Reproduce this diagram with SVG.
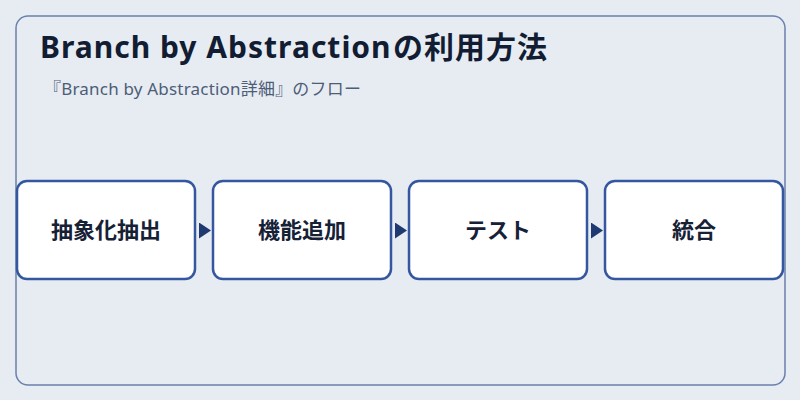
<svg xmlns="http://www.w3.org/2000/svg" width="800" height="400" viewBox="0 0 800 400">
<defs>
<style>
.frame{fill:#e7ecf2;stroke:#6a80ae;stroke-width:1.5}
.node rect{fill:#ffffff;stroke:#3457a0;stroke-width:2.5}
.node text{font-family:"Noto Sans CJK JP","Noto Sans",sans-serif;font-size:22px;font-weight:700;fill:#162136;text-anchor:middle}
.title{font-family:"Noto Sans","Noto Sans CJK JP",sans-serif;font-size:30px;font-weight:700;fill:#121d33;letter-spacing:1px}
.title .jp{font-family:"Noto Sans CJK JP",sans-serif;font-size:30px;letter-spacing:1px}
.sub{font-family:"Noto Sans","Noto Sans CJK JP",sans-serif;font-size:17px;fill:#4d5d78;letter-spacing:0.2px}
.conn line{stroke:#1e3a70;stroke-width:2}
</style>
<marker id="arr" viewBox="0 0 12 16" refX="12" refY="8" markerWidth="12" markerHeight="16" markerUnits="userSpaceOnUse" orient="auto">
<path d="M0,0 L12,8 L0,16 Z" fill="#1e3a70"/>
</marker>
</defs>
<rect width="800" height="400" fill="#e7ecf2"/>
<rect class="frame" x="16" y="16" width="769" height="369" rx="12"/>
<text class="title" x="40" y="58">Branch by Abstraction<tspan class="jp" x="393">の利用方法</tspan></text>
<text class="sub" x="44" y="95">『Branch by Abstraction詳細』のフロー</text>
<g class="conn">
<line x1="196" y1="230.5" x2="211" y2="230.5" marker-end="url(#arr)" stroke-opacity="0"/>
<line x1="392" y1="230.5" x2="407" y2="230.5" marker-end="url(#arr)" stroke-opacity="0"/>
<line x1="588" y1="230.5" x2="603" y2="230.5" marker-end="url(#arr)" stroke-opacity="0"/>
</g>
<g id="node1" class="node"><rect x="17" y="181" width="178" height="98" rx="10"/><text x="106" y="238">抽象化抽出</text></g>
<g id="node2" class="node"><rect x="213" y="181" width="178" height="98" rx="10"/><text x="302" y="238">機能追加</text></g>
<g id="node3" class="node"><rect x="409" y="181" width="178" height="98" rx="10"/><text x="498" y="238">テスト</text></g>
<g id="node4" class="node"><rect x="605" y="181" width="178" height="98" rx="10"/><text x="694" y="238">統合</text></g>
</svg>
